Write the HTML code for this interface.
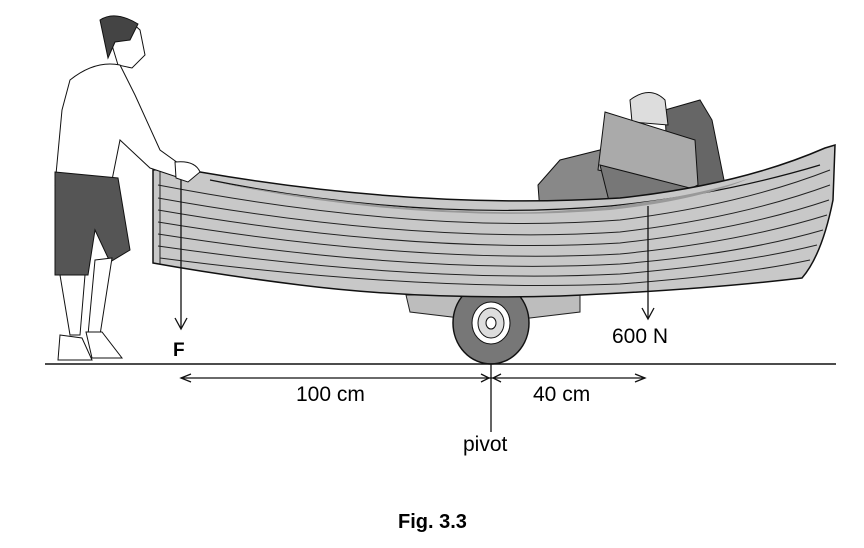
<!DOCTYPE html>
<html><head><meta charset="utf-8"><style>
html,body{margin:0;padding:0;background:#fff;}
svg{display:block;}
text{font-family:"Liberation Sans",Arial,sans-serif;}
</style></head><body>
<svg width="864" height="548" viewBox="0 0 864 548" xmlns="http://www.w3.org/2000/svg">
<!-- trailer block -->
<path d="M406 295 L580 295 L580 312 L530 318 L460 318 L410 312 Z" fill="#bdbdbd" stroke="#222" stroke-width="1"/>
<!-- wheel -->
<ellipse cx="491" cy="323" rx="38" ry="41" fill="#777" stroke="#111" stroke-width="1.5"/>
<ellipse cx="491" cy="323" rx="19" ry="21" fill="#fff" stroke="#111" stroke-width="1"/>
<ellipse cx="491" cy="323" rx="13" ry="15" fill="#ddd" stroke="#111" stroke-width="1"/>
<ellipse cx="491" cy="323" rx="5" ry="6" fill="#fff" stroke="#111" stroke-width="1"/>
<!-- luggage -->
<path d="M538 185 L560 160 L600 150 L615 170 L610 210 L540 212 Z" fill="#888" stroke="#111"/>
<path d="M665 110 L700 100 L712 120 L725 185 L705 192 L668 180 Z" fill="#666" stroke="#111"/>
<path d="M630 100 Q650 85 665 100 L668 125 L632 122 Z" fill="#ddd" stroke="#111"/>
<path d="M605 112 L695 140 L698 185 L688 190 L598 170 Z" fill="#aaa" stroke="#111"/>
<path d="M600 165 L690 188 L650 210 L610 205 Z" fill="#777" stroke="#111"/>
<!-- boat hull -->
<path d="M153 170 Q170 168 200 172 Q420 210 620 198 Q740 185 825 148 L835 145 L833 200 Q822 255 802 278 Q700 290 560 296 Q420 300 300 285 Q220 275 153 263 Z" fill="#c8c8c8" stroke="#111" stroke-width="1.5"/>
<path d="M210 180 Q420 222 610 206 Q720 195 820 165" fill="none" stroke="#111" stroke-width="1.2"/>
<path d="M215 182 Q400 215 540 212 L600 208 Q700 196 750 178 Q700 200 610 210 Q420 225 215 182 Z" fill="#999"/>
<g fill="none" stroke="#222" stroke-width="1">
<path d="M158 185 Q420 235 620 220 Q740 205 830 170"/>
<path d="M158 198 Q420 245 620 232 Q740 218 830 185"/>
<path d="M158 210 Q420 255 620 243 Q740 230 829 200"/>
<path d="M158 222 Q420 265 620 254 Q740 242 827 215"/>
<path d="M158 234 Q420 275 620 264 Q740 254 823 230"/>
<path d="M158 246 Q420 284 620 274 Q740 264 817 245"/>
<path d="M160 258 Q420 292 620 284 Q740 275 810 260"/>
<line x1="160" y1="170" x2="160" y2="264"/>
</g>
<!-- person -->
<path d="M105 22 Q125 15 140 30 L145 55 L132 68 L118 65 Z" fill="#fff" stroke="#111"/>
<path d="M100 20 Q115 10 138 24 L130 40 L115 42 L108 58 Z" fill="#444" stroke="#111"/>
<path d="M70 80 Q95 60 120 65 L135 95 L160 150 L185 168 L180 178 L150 168 L120 140 L112 180 L55 185 L62 110 Z" fill="#fff" stroke="#111"/>
<path d="M55 172 L118 178 L130 250 L110 262 L95 230 L88 275 L55 275 Z" fill="#555" stroke="#111"/>
<path d="M60 275 L85 275 L80 335 L70 335 Z M95 260 L112 258 L100 335 L88 335 Z" fill="#fff" stroke="#111"/>
<path d="M60 335 L82 338 L92 360 L58 360 Z M86 332 L102 332 L122 358 L92 358 Z" fill="#fff" stroke="#111"/>
<path d="M175 162 Q195 160 200 172 L188 182 L176 178 Z" fill="#fff" stroke="#111"/>
<!-- ground -->
<line x1="45" y1="364" x2="836" y2="364" stroke="#111" stroke-width="1.5"/>
<!-- F arrow -->
<line x1="181" y1="180" x2="181" y2="328" stroke="#111" stroke-width="1.3"/>
<path d="M175 318 L181 329 L187 318" fill="none" stroke="#111" stroke-width="1.3"/>
<text x="173" y="356" font-size="19" font-weight="bold">F</text>
<!-- 600N arrow -->
<line x1="648" y1="206" x2="648" y2="318" stroke="#111" stroke-width="1.3"/>
<path d="M642 308 L648 319 L654 308" fill="none" stroke="#111" stroke-width="1.3"/>
<text x="612" y="343" font-size="21">600 N</text>
<!-- dimension -->
<line x1="181" y1="378" x2="645" y2="378" stroke="#111" stroke-width="1.3"/>
<path d="M191 374 L181 378 L191 382 M481 374 L489 378 L481 382 M501 374 L493 378 L501 382 M635 374 L645 378 L635 382" fill="none" stroke="#111" stroke-width="1.3"/>
<line x1="491" y1="364" x2="491" y2="432" stroke="#111" stroke-width="1.3"/>
<text x="296" y="401" font-size="21">100 cm</text>
<text x="533" y="401" font-size="21">40 cm</text>
<text x="463" y="451" font-size="21">pivot</text>
<text x="398" y="528" font-size="20" font-weight="bold">Fig. 3.3</text>
</svg>
</body></html>
